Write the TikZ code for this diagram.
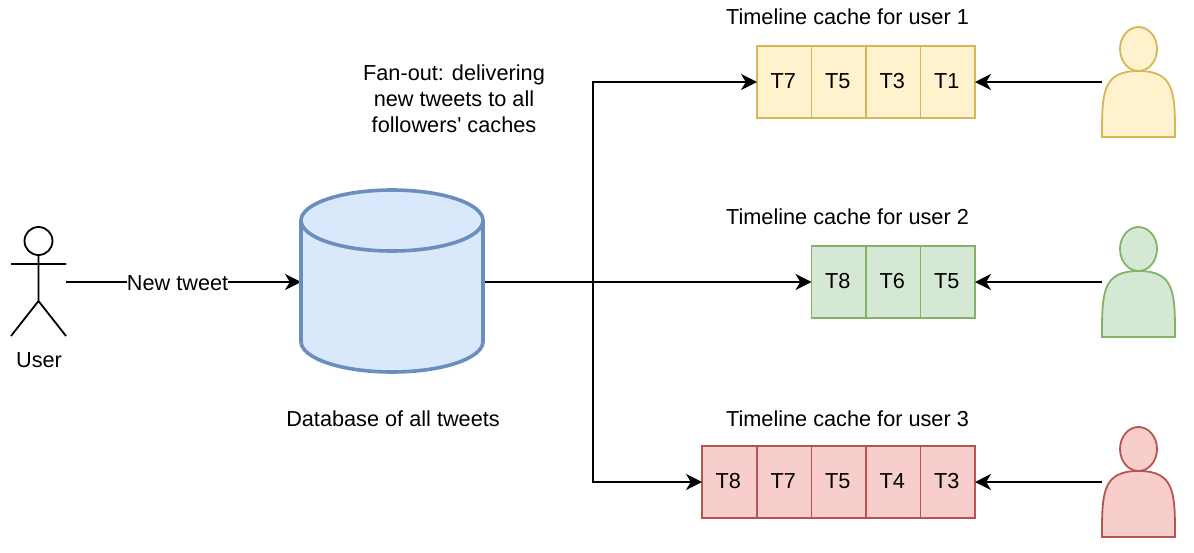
\documentclass[tikz,border=0pt]{standalone}
\usepackage{fontspec}
\setmainfont{Liberation Sans}
\usetikzlibrary{arrows.meta}
\definecolor{yellowfill}{HTML}{FFF2CC}
\definecolor{yellowline}{HTML}{D6B656}
\definecolor{greenfill}{HTML}{D5E8D4}
\definecolor{greenline}{HTML}{82B366}
\definecolor{redfill}{HTML}{F8CECC}
\definecolor{redline}{HTML}{B85450}
\definecolor{bluefill}{HTML}{DAE8FC}
\definecolor{blueline}{HTML}{6C8EBF}
\tikzset{
	label text/.style={font=\fontsize{10.85}{13}\selectfont,inner sep=0.75pt,align=center},
	cell/.style={draw,line width=0.9pt,minimum width=27.25pt,minimum height=36pt,inner sep=0pt,outer sep=0pt,text height=8pt,text depth=1.7pt,font=\fontsize{10.85}{13}\selectfont,execute at begin node=\hspace*{-1pt}},
	cell one/.style={cell,draw=yellowline,fill=yellowfill},
	cell two/.style={cell,draw=greenline,fill=greenfill},
	cell three/.style={cell,draw=redline,fill=redfill},
	person box/.style={minimum width=36.5pt,minimum height=55pt,inner sep=0pt,outer sep=0pt},
	flow/.style={line width=0.9pt,-{Stealth[length=8pt,width=8pt,inset=2.4pt]}},
}
\begin{document}
\begin{tikzpicture}[x=0.5pt,y=0.5pt,yscale=-1,xscale=1]
	\useasboundingbox (0,0) rectangle (1194,552);

	% Actor and database boxes
	\node [minimum width=27.5pt,minimum height=55pt,inner sep=0pt,outer sep=0pt] (author) at (38.5,282) {};
	\node [minimum width=91pt,minimum height=91pt,inner sep=0pt,outer sep=0pt] (db) at (392,281) {};
	\coordinate (fan) at (593,282);

	% Timeline cache for user 1
	\node [cell one] (a7) at (784.25,82) {T7};
	\node [cell one] (a5) at (838.75,82) {T5};
	\node [cell one] (a3) at (893.25,82) {T3};
	\node [cell one] (a1) at (947.75,82) {T1};
	% Timeline cache for user 2
	\node [cell two] (b8) at (838.75,282) {T8};
	\node [cell two] (b6) at (893.25,282) {T6};
	\node [cell two] (b5) at (947.75,282) {T5};
	% Timeline cache for user 3
	\node [cell three] (c8) at (729.25,482) {T8};
	\node [cell three] (c7) at (784.25,482) {T7};
	\node [cell three] (c5) at (838.75,482) {T5};
	\node [cell three] (c4) at (893.25,482) {T4};
	\node [cell three] (c3) at (947.75,482) {T3};

	% Follower boxes
	\node [person box] (user1) at (1138.5,82) {};
	\node [person box] (user2) at (1138.5,282) {};
	\node [person box] (user3) at (1138.5,482) {};

	% Connectors
	\draw [flow] (author.east) -- node [label text,fill=white,pos=0.475,inner xsep=0pt,yshift=-0.5pt] (newtweet) {New tweet} (db.west |- author.east);
	\draw [flow] (db.east |- fan) -- (fan) |- (a7.west);
	\draw [flow] (db.east |- fan) -- (b8.west);
	\draw [flow] (db.east |- fan) -- (fan) |- (c8.west);
	\draw [flow] (user1.west) -- (a1.east);
	\draw [flow] (user2.west) -- (b5.east);
	\draw [flow] (user3.west) -- (c3.east);

	%Shape: Actor
	\draw [line width=0.9pt] (38.5,241) ellipse (14 and 14);
	\draw [line width=0.9pt] (38.5,255) -- (38.5,301) (11,264) -- (66,264) (11,336) -- (38.5,301) -- (66,336);

	%Shape: Can
	\draw [line width=1.8pt,draw=blueline,fill=bluefill] (301,220.5) .. controls (301,203.7) and (341.7,190) .. (392,190) .. controls (442.3,190) and (483,203.7) .. (483,220.5) -- (483,341.5) .. controls (483,358.3) and (442.3,372) .. (392,372) .. controls (341.7,372) and (301,358.3) .. (301,341.5) -- cycle;
	\draw [line width=1.8pt,draw=blueline] (301,220.5) .. controls (301,237.3) and (341.7,251) .. (392,251) .. controls (442.3,251) and (483,237.3) .. (483,220.5);

	%Shape: Person 1
	\draw [line width=0.9pt,draw=yellowline,fill=yellowfill] (1102,137) .. controls (1102,93) and (1102,71) .. (1138.5,71) .. controls (1175,71) and (1175,93) .. (1175,137) -- cycle;
	\draw [line width=0.9pt,draw=yellowline,fill=yellowfill] (1138.5,49) ellipse (18.5 and 22);
	%Shape: Person 2
	\draw [line width=0.9pt,draw=greenline,fill=greenfill] (1102,337) .. controls (1102,293) and (1102,271) .. (1138.5,271) .. controls (1175,271) and (1175,293) .. (1175,337) -- cycle;
	\draw [line width=0.9pt,draw=greenline,fill=greenfill] (1138.5,249) ellipse (18.5 and 22);
	%Shape: Person 3
	\draw [line width=0.9pt,draw=redline,fill=redfill] (1102,537) .. controls (1102,493) and (1102,471) .. (1138.5,471) .. controls (1175,471) and (1175,493) .. (1175,537) -- cycle;
	\draw [line width=0.9pt,draw=redline,fill=redfill] (1138.5,449) ellipse (18.5 and 22);

	% Text Node
	\node [label text] (usertext) at (39,360) {User};
	% Text Node
	\node [label text] (fanout) at (454,99) {Fan-out: delivering\\new tweets to all\\followers\textquotesingle{} caches};
	% Text Node
	\node [label text] (dbtext) at (393,419) {Database of all tweets};
	% Text Node
	\node [label text] (title1) at (847.5,17) {Timeline cache for user 1};
	% Text Node
	\node [label text] (title2) at (847.5,217) {Timeline cache for user 2};
	% Text Node
	\node [label text] (title3) at (847.5,419) {Timeline cache for user 3};
\end{tikzpicture}
\end{document}
